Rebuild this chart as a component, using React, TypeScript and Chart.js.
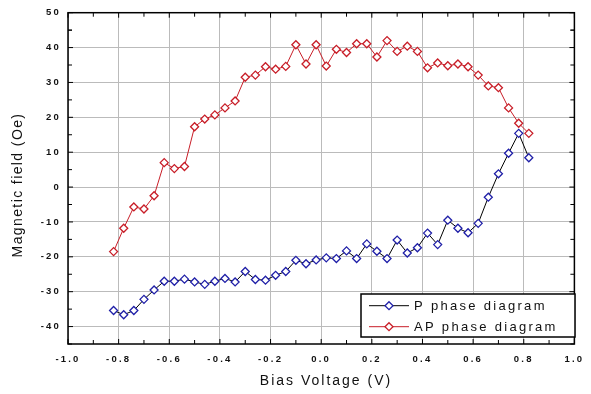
import React, { useEffect, useRef } from "react";
import { Chart, registerables } from "chart.js";

Chart.register(...registerables);

const biasVoltage = [
  -0.82, -0.78, -0.74, -0.7, -0.66, -0.62, -0.58, -0.54, -0.5, -0.46, -0.42,
  -0.38, -0.34, -0.3, -0.26, -0.22, -0.18, -0.14, -0.1, -0.06, -0.02, 0.02,
  0.06, 0.1, 0.14, 0.18, 0.22, 0.26, 0.3, 0.34, 0.38, 0.42, 0.46, 0.5, 0.54,
  0.58, 0.62, 0.66, 0.7, 0.74, 0.78, 0.82,
];

const pPhase = [
  -35.4, -36.6, -35.4, -32.2, -29.5, -27.0, -27.0, -26.4, -27.2, -27.9, -27.0,
  -26.2, -27.2, -24.2, -26.5, -26.7, -25.3, -24.2, -21.0, -22.0, -20.9, -20.3,
  -20.5, -18.3, -20.5, -16.3, -18.4, -20.5, -15.2, -18.9, -17.4, -13.2, -16.5,
  -9.5, -11.8, -13.1, -10.4, -2.9, 3.8, 9.7, 15.4, 8.4,
];

const apPhase = [
  -18.5, -11.8, -5.7, -6.3, -2.5, 7.0, 5.3, 5.9, 17.3, 19.5, 20.7, 22.7, 24.7,
  31.5, 32.1, 34.5, 33.8, 34.6, 40.8, 35.3, 40.8, 34.7, 39.5, 38.6, 41.1, 41.1,
  37.3, 42.0, 38.9, 40.4, 38.9, 34.2, 35.6, 34.8, 35.3, 34.5, 32.1, 29.0, 28.5,
  22.7, 18.3, 15.4,
];

const xTickValues = [-1.0, -0.8, -0.6, -0.4, -0.2, 0.0, 0.2, 0.4, 0.6, 0.8, 1.0];
const yTickValues = [-40, -30, -20, -10, 0, 10, 20, 30, 40, 50];

const seriesLabels = ["P phase diagram", "AP phase diagram"];
const xTitle = "Bias Voltage (V)";
const yTitle = "Magnetic field (Oe)";

const FONT = "'Liberation Sans', Arial, sans-serif";
const BLUE = "#2020a8";
const RED = "#c81e28";

function diamond(ctx: CanvasRenderingContext2D, x: number, y: number, r: number, color: string) {
  ctx.save();
  ctx.beginPath();
  ctx.moveTo(x, y - r);
  ctx.lineTo(x + r, y);
  ctx.lineTo(x, y + r);
  ctx.lineTo(x - r, y);
  ctx.closePath();
  ctx.fillStyle = "#fff";
  ctx.fill();
  ctx.strokeStyle = color;
  ctx.lineWidth = 1.3;
  ctx.stroke();
  ctx.restore();
}

const spacingPlugin = {
  id: "spacing",
  beforeDraw(chart: any) {
    chart.ctx.letterSpacing = "2.2px";
  },
};

const framePlugin = {
  id: "frame",
  beforeDatasetsDraw(chart: any) {
    const ctx = chart.ctx as CanvasRenderingContext2D;
    const { left, right, top, bottom } = chart.chartArea;
    const xs = chart.scales.x;
    const ys = chart.scales.y;
    ctx.save();
    ctx.strokeStyle = "#000";
    ctx.lineWidth = 1;
    ctx.beginPath();
    const majorLen = 5;
    const minorLen = 4;
    for (let i = 0; i < xTickValues.length; i++) {
      const v = xTickValues[i];
      const px = xs.getPixelForValue(v);
      ctx.moveTo(px, top);
      ctx.lineTo(px, top + majorLen);
      ctx.moveTo(px, bottom);
      ctx.lineTo(px, bottom - majorLen);
      if (i < xTickValues.length - 1) {
        const m = xs.getPixelForValue((v + xTickValues[i + 1]) / 2);
        ctx.moveTo(m, top);
        ctx.lineTo(m, top + minorLen);
        ctx.moveTo(m, bottom);
        ctx.lineTo(m, bottom - minorLen);
      }
    }
    const yMinor = [...yTickValues.map((v) => v - 5), yTickValues[yTickValues.length - 1] - 5];
    for (const v of yTickValues) {
      const py = ys.getPixelForValue(v);
      ctx.moveTo(left, py);
      ctx.lineTo(left + majorLen, py);
      ctx.moveTo(right, py);
      ctx.lineTo(right - majorLen, py);
    }
    for (const v of yMinor) {
      const py = ys.getPixelForValue(v);
      if (py < top || py > bottom) continue;
      ctx.moveTo(left, py);
      ctx.lineTo(left + minorLen, py);
      ctx.moveTo(right, py);
      ctx.lineTo(right - minorLen, py);
    }
    ctx.stroke();
    ctx.lineWidth = 1.5;
    ctx.strokeRect(left, top, right - left, bottom - top);
    ctx.restore();
  },
  afterDraw(chart: any) {
    const ctx = chart.ctx as CanvasRenderingContext2D;
    ctx.save();
    // axis titles
    ctx.fillStyle = "#111";
    ctx.font = `14px ${FONT}`;
    (ctx as any).letterSpacing = "2px";
    ctx.textAlign = "center";
    ctx.textBaseline = "middle";
    ctx.fillText(xTitle, 326, 381);
    ctx.save();
    ctx.translate(18, 185);
    ctx.rotate(-Math.PI / 2);
    (ctx as any).letterSpacing = "1.4px";
    ctx.fillText(yTitle, 0, 0);
    ctx.restore();

    // legend
    const lx = 361, ly = 294, lw = 214, lh = 43;
    ctx.fillStyle = "#fff";
    ctx.fillRect(lx, ly, lw, lh);
    ctx.strokeStyle = "#000";
    ctx.lineWidth = 1.5;
    ctx.strokeRect(lx, ly, lw, lh);
    const rows = [305.7, 326.7];
    const ds = chart.data.datasets;
    ds.forEach((d: any, i: number) => {
      const y = rows[i];
      ctx.beginPath();
      ctx.strokeStyle = d.borderColor;
      ctx.lineWidth = 1;
      ctx.moveTo(369, y);
      ctx.lineTo(409, y);
      ctx.stroke();
      diamond(ctx, 389, y, 4, d.pointBorderColor);
      ctx.fillStyle = "#111";
      ctx.font = `13px ${FONT}`;
      (ctx as any).letterSpacing = "2.3px";
      ctx.textAlign = "left";
      ctx.textBaseline = "middle";
      ctx.fillText(d.label, 414, y + 0.5);
    });
    ctx.restore();
  },
};

export default function App() {
  const ref = useRef<HTMLCanvasElement>(null);
  useEffect(() => {
    const canvas = ref.current!;
    const tickFont = { family: FONT, size: 9.5, weight: "bold" as const };
    const chart = new Chart(canvas, {
      type: "line",
      data: {
        datasets: [
          {
            label: seriesLabels[0],
            data: biasVoltage.map((x, i) => ({ x, y: pPhase[i] })),
            borderColor: "#000",
            borderWidth: 1,
            pointStyle: "rectRot",
            pointRadius: 4,
            pointBorderWidth: 1.3,
            pointBorderColor: BLUE,
            pointBackgroundColor: "#fff",
            tension: 0,
          },
          {
            label: seriesLabels[1],
            data: biasVoltage.map((x, i) => ({ x, y: apPhase[i] })),
            borderColor: RED,
            borderWidth: 1,
            pointStyle: "rectRot",
            pointRadius: 4,
            pointBorderWidth: 1.3,
            pointBorderColor: RED,
            pointBackgroundColor: "#fff",
            tension: 0,
          },
        ],
      },
      options: {
        animation: false,
        responsive: false,
        devicePixelRatio: 1,
        layout: { padding: { top: 9, right: 5, left: 0, bottom: 0 } },
        plugins: { legend: { display: false }, tooltip: { enabled: false } },
        scales: {
          x: {
            type: "linear",
            min: -1,
            max: 1,
            afterFit: (s: any) => {
              s.height = 50;
            },
            afterBuildTicks: (s: any) => {
              s.ticks = xTickValues.map((v) => ({ value: v }));
            },
            grid: { color: "#bbbbbb", lineWidth: 1, drawTicks: false },
            border: { display: false },
            ticks: {
              padding: 10,
              color: "#111",
              font: tickFont,
              maxRotation: 0,
              autoSkip: false,
              callback: (v: any) => {
                const n = Number(v);
                return Math.abs(n) < 1e-9 ? "0.0" : n.toFixed(1);
              },
            },
          },
          y: {
            type: "linear",
            min: -45,
            max: 50,
            afterFit: (s: any) => {
              s.width = 68;
            },
            afterBuildTicks: (s: any) => {
              s.ticks = yTickValues.map((v) => ({ value: v }));
            },
            grid: { color: "#bbbbbb", lineWidth: 1, drawTicks: false },
            border: { display: false },
            ticks: {
              padding: 7,
              color: "#111",
              font: tickFont,
              autoSkip: false,
              callback: (v: any) => String(Math.round(Number(v))),
            },
          },
        },
      },
      plugins: [spacingPlugin, framePlugin],
    });
    return () => chart.destroy();
  }, []);
  return (
    <div style={{ position: "fixed", left: 0, top: 0, width: 591, height: 394, background: "#fff" }}>
      <canvas ref={ref} width={591} height={394} style={{ display: "block" }} />
    </div>
  );
}
